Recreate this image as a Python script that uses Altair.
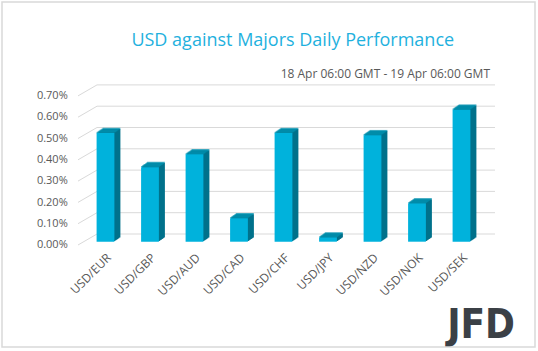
import altair as alt
import pandas as pd

pairs = ["USD/EUR", "USD/GBP", "USD/AUD", "USD/CAD", "USD/CHF", "USD/JPY", "USD/NZD", "USD/NOK", "USD/SEK"]
perf = [0.51, 0.35, 0.41, 0.11, 0.51, 0.02, 0.50, 0.18, 0.62]
tick_vals = [0.0, 0.1, 0.2, 0.3, 0.4, 0.5, 0.6, 0.7]
title_text = "USD against Majors Daily Performance"
subtitle_text = "18 Apr 06:00 GMT - 19 Apr 06:00 GMT"
logo_text = "JFD"

df = pd.DataFrame({"pair": pairs, "perf": perf})
grid = pd.DataFrame({"perf": tick_vals})

W, H = 400.5, 149.1
PL, PT = 83.25, 92.6
FONT = "Open Sans"
FRONT = "#00b2dc"
SIDE = "#00718b"
TOP = "#0090ae"

xs = alt.Scale(domain=pairs, paddingInner=0.6, paddingOuter=0.3)
ys = alt.Scale(domain=[0, 0.7], nice=False, zero=True)

x_axis = alt.Axis(labelAngle=-45, labelFont=FONT, labelFontSize=12, labelColor="#595959",
                  domain=False, ticks=False, labelPadding=10, grid=False)
y_axis = alt.Axis(values=tick_vals, labelExpr="format(datum.value, '.2f') + '%'",
                  labelFont=FONT, labelFontSize=11, labelColor="#595959",
                  domain=False, ticks=False, grid=False, labelPadding=16, labelOffset=3)


def X():
    return alt.X("pair:N", scale=xs, sort=pairs, title=None, axis=x_axis)


def Y():
    return alt.Y("perf:Q", scale=ys, title=None, axis=y_axis)


base = alt.Chart(df)

# back gridlines
back = alt.Chart(grid).mark_rule(color="#d9d9d9", strokeWidth=1, yOffset=-7.7).encode(
    y=Y(), x=alt.value(13.75), x2=alt.value(411.75),
)
diag = alt.Chart(grid).mark_rule(color="#d9d9d9", strokeWidth=1, yOffset=3.3, y2Offset=-7.7).encode(
    y=Y(), y2=alt.Y2("perf:Q"),
    x=alt.value(-5.25), x2=alt.value(13.75),
)

layers = [back, diag]
# extrusion (side)
for k in range(1, 7):
    layers.append(
        base.mark_bar(color=SIDE, xOffset=k, yOffset=-k * 0.68, width=17.8).encode(x=X(), y=Y())
    )
# top face
for k in range(0, 7):
    layers.append(
        base.mark_tick(color=TOP, xOffset=k, yOffset=-k * 0.68 - 0.5, size=17.8, thickness=1.4,
                       orient="horizontal").encode(x=X(), y=Y())
    )

front = base.mark_bar(color=FRONT, width=17.8).encode(x=X(), y=Y())
layers.append(front)

one = pd.DataFrame({"t": [title_text], "s": [subtitle_text], "l": [logo_text]})
title = alt.Chart(one).mark_text(font=FONT, fontSize=18, color="#1fb1de", align="center", baseline="alphabetic").encode(
    text="t:N", x=alt.value(209.5), y=alt.value(-46.6))
subtitle = alt.Chart(one).mark_text(font=FONT, fontSize=12, color="#595959", align="right", baseline="alphabetic").encode(
    text="s:N", x=alt.value(406.75), y=alt.value(-14.3))
logo = alt.Chart(one).mark_text(font="DejaVu Sans Condensed, sans-serif", fontSize=40,
                                fontWeight="bold", color="#3b4046", align="right", baseline="alphabetic").encode(
    text="l:N", x=alt.value(431.75), y=alt.value(245.5))
border = alt.Chart(one).mark_rect(fill=None, stroke="#d9d9d9", strokeWidth=1.5).encode(
    x=alt.value(-81.25), x2=alt.value(451.75), y=alt.value(-90.6), y2=alt.value(254.4))

layers += [title, subtitle, logo, border]

chart = alt.layer(*layers).properties(
    width=W, height=H,
    autosize=alt.AutoSizeParams(type="none"),
    padding={"left": PL, "top": PT, "right": 538 - PL - W, "bottom": 351 - PT - H},
    background="white",
).configure_view(stroke=None)

chart.save("out.html", embed_options={"renderer": "svg", "actions": False})
